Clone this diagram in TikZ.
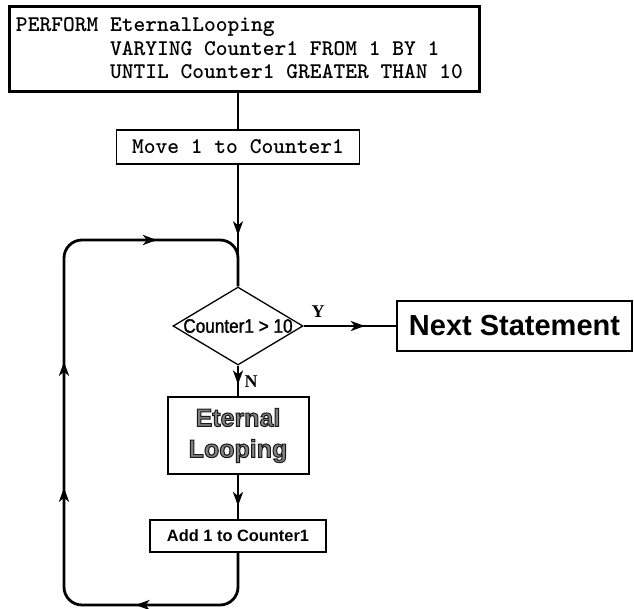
\documentclass[tikz,border=0pt]{standalone}
\usepackage{fontspec}
\setmainfont{Liberation Sans}
\newfontfamily\ynfont{Liberation Serif}
\newfontfamily\narrowsans[FakeStretch=0.88,FakeBold=1.5]{Liberation Sans}
\usetikzlibrary{arrows.meta,shapes.geometric,decorations.markings}
\newcommand{\grayout}[1]{{\addfontfeature{FakeBold=4}\color{black!50}\special{pdf:code 0.1 G}#1}}

\begin{document}
\begin{tikzpicture}[x=1pt,y=-1pt,
box/.style={draw,line width=1.5pt,align=center,inner sep=0pt},
cobol/.style={box,font=\ttfamily\bfseries\fontsize{22.4}{23.5}\selectfont},
line/.style={line width=2.8pt},
tip/.style={postaction={decorate},decoration={markings,mark=at position #1 with {\arrow{Stealth[length=14pt,width=10pt,inset=4pt]}}}},
looptips/.style={postaction={decorate},decoration={markings,
  mark=at position 147pt with {\arrow{Stealth[length=14pt,width=10pt,inset=4pt]}},
  mark=at position 328pt with {\arrow{Stealth[length=14pt,width=10pt,inset=4pt]}},
  mark=at position 454pt with {\arrow{Stealth[length=14pt,width=10pt,inset=4pt]}},
  mark=at position 661pt with {\arrow{Stealth[length=14pt,width=10pt,inset=4pt]}}}}
]
\useasboundingbox (0,0) rectangle (634,608);

\node[cobol, line width=3pt, minimum width=470pt, minimum height=85pt, align=left] (pf) at (244,48.5)
  {\makebox[456pt][l]{PERFORM EternalLooping}\\
   \phantom{PERFORM} VARYING Counter1 FROM 1 BY 1\\
   \phantom{PERFORM} UNTIL Counter1 GREATER THAN 10};
\node[cobol, minimum width=243pt, minimum height=34pt] (mv) at (238,147) {Move 1 to Counter1};
\node[draw, diamond, line width=1.3pt, minimum width=130pt, minimum height=78pt, inner sep=0pt,
  font=\narrowsans\fontsize{19.5}{19.5}\selectfont] (dc) at (238,326) {\makebox[0pt]{Counter1 > 10}};
\node[box, minimum width=235pt, minimum height=50pt, font=\bfseries\fontsize{29}{29}\selectfont] (nx) at (514.5,326) {Next Statement};
\node[box, line width=2pt, minimum width=141pt, minimum height=77pt, font=\bfseries\fontsize{25}{31}\selectfont] (el) at (238,435.5)
  {\grayout{Eternal}\\\grayout{Looping}};
\node[box, minimum width=176pt, minimum height=32pt, font=\bfseries\fontsize{16.4}{16.4}\selectfont] (ad) at (238,536) {Add 1 to Counter1};
\node[font=\ynfont\bfseries\fontsize{18}{18}\selectfont] (yl) at (318,312) {Y};
\node[font=\ynfont\bfseries\fontsize{18}{18}\selectfont] (nl) at (251,382) {N};

% loop corners
\coordinate (lbr) at (238,605);
\coordinate (lbl) at (64,605);
\coordinate (ltl) at (64,240);
\coordinate (ltr) at (238,240);

\draw[line] (pf.south -| mv) -- (mv);
\draw[line, tip=0.58] (mv) -- (dc);
\draw[line, tip=0.66] (dc) -- (nx);
\draw[line, tip=0.62] (dc) -- (el);
\draw[line, tip=0.7] (el) -- (ad);
\draw[line, rounded corners=18pt, looptips] (ad.south) -- (lbr) -- (lbl) -- (ltl) -- (ltr) -- (dc.north);
\end{tikzpicture}
\end{document}
